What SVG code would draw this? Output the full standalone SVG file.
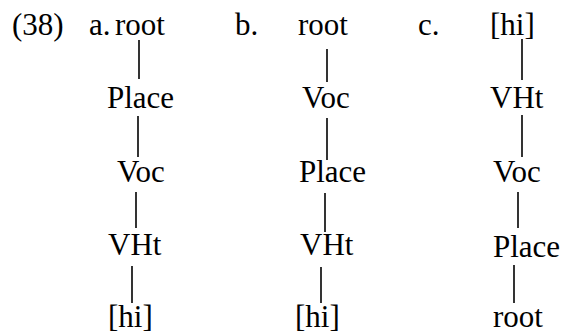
<svg xmlns="http://www.w3.org/2000/svg" width="561" height="333" viewBox="0 0 561 333" font-family="Liberation Serif" font-size="31">
<style>
text{font-family:'Liberation Serif',serif;font-size:31px;fill:#000}
.c line{stroke:#000;stroke-width:1.6}
</style>
<rect width="561" height="333" fill="#fff"/>
<g id="labels">
<text x="12" y="35" style="font-family:'Liberation Serif',serif">(38)</text>
<text x="89" y="35" style="font-family:'Liberation Serif',serif">a.</text>
<text x="235" y="35" style="font-family:'Liberation Serif',serif">b.</text>
<text x="418" y="35" style="font-family:'Liberation Serif',serif">c.</text>
</g>
<g id="a-root"><text x="115" y="35" style="font-family:'Liberation Serif',serif">root</text></g>
<g id="a-place"><text x="107" y="108" style="font-family:'Liberation Serif',serif">Place</text></g>
<g id="a-voc"><text x="117" y="182" style="font-family:'Liberation Serif',serif">Voc</text></g>
<g id="a-vht"><text x="108" y="255" style="font-family:'Liberation Serif',serif">VHt</text></g>
<g id="a-hi"><text x="108" y="327" style="font-family:'Liberation Serif',serif">[hi]</text></g>
<g id="b-root"><text x="298" y="35" style="font-family:'Liberation Serif',serif">root</text></g>
<g id="b-voc"><text x="302" y="108" style="font-family:'Liberation Serif',serif">Voc</text></g>
<g id="b-place"><text x="299" y="182" style="font-family:'Liberation Serif',serif">Place</text></g>
<g id="b-vht"><text x="300" y="255" style="font-family:'Liberation Serif',serif">VHt</text></g>
<g id="b-hi"><text x="295" y="327" style="font-family:'Liberation Serif',serif">[hi]</text></g>
<g id="c-hi"><text x="490" y="35" style="font-family:'Liberation Serif',serif">[hi]</text></g>
<g id="c-vht"><text x="490" y="108" style="font-family:'Liberation Serif',serif">VHt</text></g>
<g id="c-voc"><text x="493" y="182" style="font-family:'Liberation Serif',serif">Voc</text></g>
<g id="c-place"><text x="493" y="257" style="font-family:'Liberation Serif',serif">Place</text></g>
<g id="c-root"><text x="493" y="327" style="font-family:'Liberation Serif',serif">root</text></g>
<g id="connectors" class="c">
<line x1="139" y1="40" x2="139" y2="79"/>
<line x1="138" y1="116" x2="138" y2="157"/>
<line x1="136" y1="192" x2="136" y2="228"/>
<line x1="132" y1="266" x2="132" y2="303"/>
<line x1="327" y1="49" x2="327" y2="82"/>
<line x1="327" y1="118" x2="327" y2="160"/>
<line x1="325" y1="193" x2="325" y2="232"/>
<line x1="321" y1="267" x2="321" y2="303"/>
<line x1="522" y1="39" x2="522" y2="80"/>
<line x1="522" y1="115" x2="522" y2="157"/>
<line x1="518" y1="192" x2="518" y2="228"/>
<line x1="514" y1="265" x2="514" y2="303"/>
</g>
</svg>
